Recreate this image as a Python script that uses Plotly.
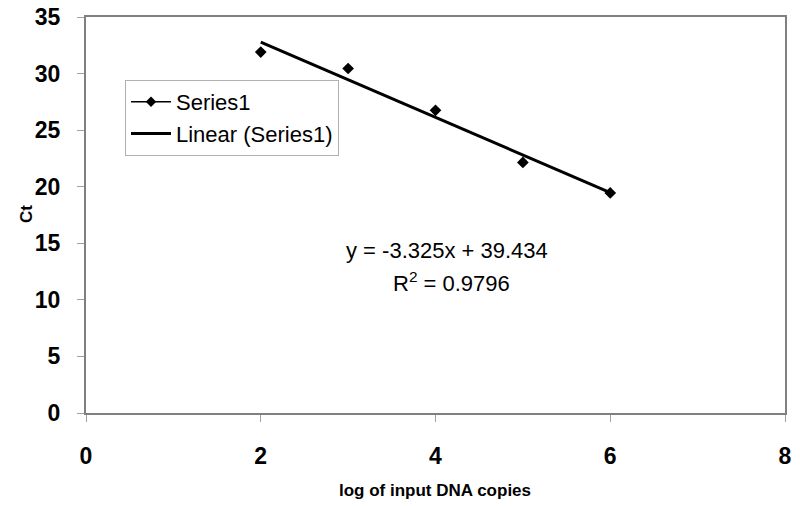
import plotly.graph_objects as go

# Data
log_copies = [2, 3, 4, 5, 6]
ct_values = [31.9, 30.45, 26.75, 22.15, 19.45]
slope = -3.325
intercept = 39.434
r_squared = 0.9796
trend_x = [2, 6]
trend_y = [slope * x + intercept for x in trend_x]
x_ticks = [0, 2, 4, 6, 8]
y_ticks = [0, 5, 10, 15, 20, 25, 30, 35]

FONT = "Arial, 'Liberation Sans', sans-serif"

# page body has an 8px default margin, so the figure is drawn offset by 8px
OFF = 8
W, H = 800 - OFF, 506 - OFF
PL, PR, PT, PB = 86, 785, 17, 413  # plot area in page pixels
L, R, T, B = PL - OFF, OFF + W - PR, PT - OFF, OFF + H - PB
pw, ph = PR - PL, PB - PT


def px_x(px):
    return (px - PL) / pw


def px_y(py):
    return (PB - py) / ph


fig = go.Figure()

# actual points (markers only)
fig.add_trace(go.Scatter(
    x=log_copies, y=ct_values, mode="markers", showlegend=False,
    marker=dict(symbol="diamond", size=9, color="black"),
))
# legend entry for Series1 (line + marker)
fig.add_trace(go.Scatter(
    x=[None], y=[None], mode="lines+markers", name="Series1",
    line=dict(color="black", width=1.5), legendgroup="a",
    marker=dict(symbol="diamond", size=8, color="black"),
))
# trend line
fig.add_trace(go.Scatter(
    x=trend_x, y=trend_y, mode="lines", name="Linear (Series1)",
    line=dict(color="black", width=3), legendgroup="b",
))

axis_common = dict(
    showgrid=False, zeroline=False, showline=True, mirror=True,
    linecolor="#808080", linewidth=2, automargin=False,
    ticks="outside", ticklen=7, tickcolor="#a0a0a0", tickwidth=1,
    ticklabeloverflow="allow",
    tickfont=dict(family=FONT, size=23, color="black", weight="bold"),
)

fig.update_xaxes(range=[0, 8], tickvals=x_ticks, ticklabelstandoff=14, **axis_common)
fig.update_yaxes(range=[0, 35], tickvals=y_ticks, ticklabelstandoff=12, **axis_common)

fig.update_layout(
    width=W, height=H, autosize=False,
    margin=dict(l=L, r=R, t=T, b=B, pad=0),
    paper_bgcolor="white", plot_bgcolor="white",
    legend=dict(
        x=px_x(125), y=px_y(80), xanchor="left", yanchor="top",
        bgcolor="white", bordercolor="#b0b0b0", borderwidth=1,
        font=dict(family=FONT, size=22, color="black"),
        tracegroupgap=0, itemwidth=40,
    ),
    annotations=[
        dict(text="y = -3.325x + 39.434", x=px_x(447), y=px_y(250), xref="paper", yref="paper",
             showarrow=False, font=dict(family=FONT, size=22, color="black"), xanchor="center", yanchor="middle"),
        dict(text="R<sup>2</sup> = %.4f" % r_squared, x=px_x(451), y=px_y(282), xref="paper", yref="paper",
             showarrow=False, font=dict(family=FONT, size=22, color="black"), xanchor="center", yanchor="middle"),
        dict(text="Ct", x=px_x(26), y=px_y(214), xref="paper", yref="paper", textangle=-90,
             showarrow=False, font=dict(family=FONT, size=17, color="black", weight="bold"),
             xanchor="center", yanchor="middle"),
        dict(text="log of input DNA copies", x=px_x(435), y=px_y(490), xref="paper", yref="paper",
             showarrow=False, font=dict(family=FONT, size=17, color="black", weight="bold"),
             xanchor="center", yanchor="middle"),
    ],
)

fig.write_html("out.html")
